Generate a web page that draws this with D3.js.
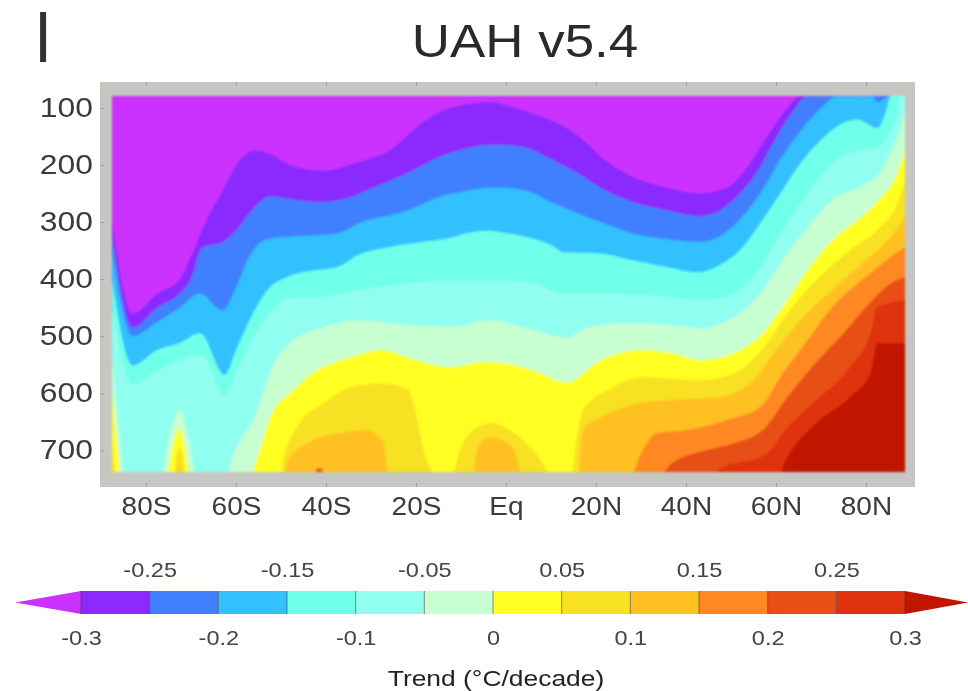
<!DOCTYPE html>
<html>
<head>
  <meta charset="utf-8">
  <title>UAH v5.4</title>
  <script src="https://d3js.org/d3.v7.min.js"></script>
  <style>
    html, body { margin: 0; padding: 0; background: #fff; }
    svg { display: block; }
    text { font-family: "Liberation Sans", Arial, sans-serif; }
  </style>
</head>
<body>
  <script>
    // pressure levels and latitudes on the axes
    var pressureTicks = [100, 200, 300, 400, 500, 600, 700];
    var latTicks = [-80, -60, -40, -20, 0, 20, 40, 60, 80];
    var latLabels = ["80S", "60S", "40S", "20S", "Eq", "20N", "40N", "60N", "80N"];

    // colour bar
    var barLevels = [-0.3, -0.25, -0.2, -0.15, -0.1, -0.05, 0, 0.05, 0.1, 0.15, 0.2, 0.25, 0.3];
    var barLabelsLow = [-0.3, -0.2, -0.1, 0, 0.1, 0.2, 0.3];
    var barLabelsHigh = [-0.25, -0.15, -0.05, 0.05, 0.15, 0.25];
    var bandColors = ["#cc33ff", "#8a2cff", "#4080ff", "#30c0ff", "#70ffe8", "#90fff0", "#c8ffd0",
                      "#ffff20", "#f8e020", "#ffc020", "#ff8820", "#e85018", "#e03008", "#c01800"];

    // contour lines, [latitude, pressure]
    // a pressure of 760 means the contour is under the bottom of the plot
    var lineM30 = [[-87.5,300],[-83,460],[-77.5,425],[-72.5,400],[-70,360],[-66.5,295],[-63,245],[-59,190],[-56,175],[-52.5,180],[-48,200],[-40.5,210],[-33,195],[-26,175],[-18.5,125],[-12.5,100],[-3.5,90],[0,95],[6,110],[13.5,135],[17,155],[21,185],[28,220],[36,240],[43,250],[49,240],[53.5,205],[58,150],[62.5,100],[65.5,79],[88.7,79]];
    var lineM25 = [[-87.5,325],[-83,485],[-77.5,450],[-72.5,425],[-70,400],[-67.5,345],[-63,335],[-60,315],[-56,275],[-52.5,255],[-48,260],[-42,265],[-36,260],[-29.5,240],[-22,215],[-14.5,185],[-8.5,170],[-3.5,165],[-1,165],[4.5,170],[10,190],[16,215],[21,240],[28,265],[36,280],[43,290],[47.5,280],[52,250],[56,210],[59.5,160],[63,115],[67,80],[88.7,79]];
    var lineM20 = [[-87.5,355],[-83,500],[-77.5,475],[-72.5,450],[-68,425],[-63,455],[-60,415],[-57,360],[-53,330],[-46.5,325],[-37.5,320],[-32,300],[-22,280],[-14.5,255],[-8.5,245],[-3.5,240],[-1,240],[4.5,245],[10,265],[16,285],[21,300],[28,320],[36,330],[43,335],[47.5,325],[52,295],[56.5,250],[61,190],[65.5,140],[70,100],[73.5,80],[81.5,80],[82.5,90],[84,85],[85,80],[88.7,79]];
    var lineM15 = [[-87.5,402],[-83,551],[-77.5,524],[-72.5,512],[-68,495],[-62.5,568],[-60,524],[-57,472],[-53,419],[-48.5,396],[-42,384],[-37.5,379],[-33,358],[-26,344],[-18.5,335],[-12.5,328],[-8.5,319],[-3.5,315],[-1,318],[4.5,326],[10,340],[13,353],[21,355],[28,367],[36,379],[42.5,388],[47.5,375],[52,349],[56.5,302],[61,249],[65.5,196],[70,156],[75,126],[78,120],[82.5,135],[84.5,105],[85.5,79],[88.7,79]];
    var lineM10 = [[-87.5,454],[-83,585],[-77.5,560],[-72.5,542],[-67.5,533],[-62.5,603],[-60,563],[-57,515],[-52,454],[-48,433],[-40.5,431],[-33,419],[-22,407],[-11,402],[-1,402],[6,407],[13,425],[21,425],[36,431],[43,437],[50.5,425],[56.5,379],[61.5,314],[67,249],[72.5,196],[78.5,174],[82.5,168],[85.5,139],[87,109],[87.5,79],[88.7,79]];
    var lineM05 = [[-87.5,540],[-86,665],[-84.5,760],[-77,760],[-75,682],[-72.5,630],[-70.5,682],[-68.5,760],[-63,760],[-60.5,705],[-55.5,635],[-52.5,565],[-48,512],[-40.5,484],[-33,472],[-22,480],[-12.5,484],[-3.5,472],[6,489],[13.5,503],[18.5,484],[28,477],[36,480],[43,486],[50.5,467],[56.5,425],[61.5,367],[67,309],[72.5,261],[78.5,239],[83,214],[86,168],[88,126],[88.7,104]];
    var lineZero = [[-87.5,600],[-86.5,682],[-85.5,760],[-75.8,760],[-74,690],[-72.5,660],[-71.5,690],[-69.8,760],[-58,760],[-54.5,695],[-52,635],[-48,600],[-43,565],[-34.5,537],[-28,524],[-20,542],[-12.5,554],[-5,545],[-1,547],[6,560],[13.5,581],[21,542],[30.5,524],[37,530],[43,542],[50.5,530],[57,495],[62.5,437],[67,384],[72.5,332],[80,284],[83.5,256],[87,214],[88.7,174]];
    var lineP05 = [[-87.5,682],[-86.5,760],[-74,760],[-73.2,709],[-72.5,695],[-71.8,709],[-71,760],[-50,760],[-49.5,717],[-46.5,660],[-40.5,617],[-34.5,590],[-28,583],[-22,592],[-20,635],[-18.5,695],[-15.5,740],[-12,740],[-10,695],[-6.5,660],[-3,652],[1,665],[6,700],[12.5,760],[14,760],[16,665],[17,630],[22.5,595],[30.5,572],[43,577],[52,560],[58,512],[62.5,460],[69,402],[76.5,349],[82.5,314],[87,267],[88.7,226]];
    var lineP10 = [[-87.5,760],[-73,760],[-72.5,725],[-72,760],[-49.5,760],[-48.5,717],[-44,687],[-37,670],[-31,665],[-27.5,682],[-25.5,760],[-8,760],[-6,690],[-3.5,677],[-1,682],[1.5,695],[4.5,760],[16,760],[17,665],[23,635],[30.5,616],[37,612],[47,607],[55,577],[60,524],[65.5,472],[72.5,419],[80,367],[85.5,326],[88.7,291]];
    var lineP15 = [[-87.5,760],[-44.7,760],[-43,745],[-40.5,745],[-39,760],[27,760],[30,705],[33.5,670],[40,665],[49,647],[56.5,624],[61.5,565],[67,507],[72.5,449],[80,396],[85.5,361],[88.7,344]];
    var lineP20 = [[-87.5,760],[-43,760],[-42,732],[-41,732],[-40,760],[32,760],[37,722],[44.5,700],[50.5,688],[57,665],[62.5,607],[68,554],[75,495],[80,449],[85.5,407],[88.7,396]];
    var lineP25 = [[-87.5,760],[45,760],[47,735],[58,705],[62.5,660],[69,612],[76.5,554],[81,495],[82.5,449],[88.7,437]];
    var lineP30 = [[-87.5,760],[59.5,760],[62.5,712],[69,652],[76.5,607],[81,565],[82.5,512],[88.7,512]];

    var contourLines = [lineM30, lineM25, lineM20, lineM15, lineM10, lineM05, lineZero,
                        lineP05, lineP10, lineP15, lineP20, lineP25, lineP30];

    var width = 968, height = 691;

    var svg = d3.select("body").append("svg")
        .attr("width", width)
        .attr("height", height);

    var defs = svg.append("defs");
    defs.append("filter").attr("id", "soft")
        .attr("x", "-5%").attr("y", "-5%").attr("width", "110%").attr("height", "110%")
      .append("feGaussianBlur").attr("stdDeviation", 1.3);
    defs.append("filter").attr("id", "softText")
      .append("feGaussianBlur").attr("stdDeviation", 0.55);

    var x = d3.scaleLinear().domain([-87.55, 88.67]).range([112, 905]);
    var y = d3.scaleLinear().domain([79, 738]).range([96, 472]);
    var barX = d3.scaleLinear().domain([-0.3, 0.3]).range([81, 905]);

    // the source image is stretched sideways, so stretch the text too
    function widen(sel, k) {
      sel.each(function() {
        var len = this.getComputedTextLength();
        d3.select(this)
          .attr("textLength", len * k)
          .attr("lengthAdjust", "spacingAndGlyphs");
      });
    }

    // grey frame behind the plot
    svg.append("rect")
        .attr("x", 100).attr("y", 82)
        .attr("width", 815).attr("height", 405)
        .attr("fill", "#c6c6c2");

    // faint ticks on the frame
    var frameLeft = svg.append("g").attr("transform", "translate(100,0)")
        .call(d3.axisRight(y).tickValues(pressureTicks).tickSize(4).tickFormat(""));
    var frameTop = svg.append("g").attr("transform", "translate(0,82)")
        .call(d3.axisBottom(x).tickValues(latTicks).tickSize(4).tickFormat(""));
    var frameBottom = svg.append("g").attr("transform", "translate(0,487)")
        .call(d3.axisTop(x).tickValues(latTicks).tickSize(4).tickFormat(""));
    [frameLeft, frameTop, frameBottom].forEach(function(g) {
      g.select(".domain").remove();
      g.selectAll("line").attr("stroke", "#777").attr("stroke-opacity", 0.5);
    });

    defs.append("clipPath").attr("id", "plotClip")
      .append("rect")
        .attr("x", x.range()[0]).attr("y", y.range()[0])
        .attr("width", x.range()[1] - x.range()[0])
        .attr("height", y.range()[1] - y.range()[0]);

    var plot = svg.append("g").attr("filter", "url(#soft)")
      .append("g").attr("clip-path", "url(#plotClip)");

    plot.append("rect")
        .attr("x", x.range()[0]).attr("y", y.range()[0])
        .attr("width", x.range()[1] - x.range()[0])
        .attr("height", y.range()[1] - y.range()[0])
        .attr("fill", bandColors[0]);

    // each band is painted from its contour down to the bottom, next one goes over it
    var area = d3.area()
        .curve(d3.curveMonotoneX)
        .x(d => x(d[0]))
        .y0(y(760))
        .y1(d => y(d[1]));

    plot.selectAll(".band")
        .data(contourLines)
      .enter().append("path")
        .attr("class", "band")
        .attr("d", area)
        .attr("fill", (d, i) => bandColors[i + 1]);

    var texts = svg.append("g").attr("filter", "url(#softText)");

    // Y axis
    var yAxisGroup = texts.append("g")
        .attr("transform", "translate(93,0)")
        .call(d3.axisLeft(y).tickValues(pressureTicks).tickSize(0).tickPadding(0));
    yAxisGroup.select(".domain").remove();
    yAxisGroup.selectAll("text")
        .attr("font-size", 27).attr("font-family", "Liberation Sans").attr("fill", "#3a3a3a")
        .call(widen, 1.18);

    // X axis
    var xAxisGroup = texts.append("g")
        .attr("transform", "translate(0,487)")
        .call(d3.axisBottom(x).tickValues(latTicks)
          .tickFormat((d, i) => latLabels[i]).tickSize(0).tickPadding(10));
    xAxisGroup.select(".domain").remove();
    xAxisGroup.selectAll("text")
        .attr("font-size", 25).attr("font-family", "Liberation Sans").attr("fill", "#3a3a3a")
        .call(widen, 1.12);

    // Title
    texts.append("text")
        .attr("x", 525).attr("y", 57)
        .attr("text-anchor", "middle")
        .attr("font-size", 46).attr("fill", "#2a2a2a")
        .text("UAH v5.4")
        .call(widen, 1.15);

    // panel letter
    texts.append("text")
        .attr("x", 35.5).attr("y", 62)
        .attr("font-size", 68).attr("fill", "#333")
        .text("l");

    // Colour bar
    var barTop = 591, barBottom = 614, barMid = (barTop + barBottom) / 2;
    var bar = svg.append("g").attr("filter", "url(#softText)");

    bar.selectAll(".seg")
        .data(d3.pairs(barLevels))
      .enter().append("rect")
        .attr("class", "seg")
        .attr("x", d => barX(d[0]))
        .attr("y", barTop)
        .attr("width", d => barX(d[1]) - barX(d[0]))
        .attr("height", barBottom - barTop)
        .attr("fill", (d, i) => bandColors[i + 1]);

    // arrow ends; they run a bit less than one band past the last level
    bar.append("path")
        .attr("d", d3.line()([[barX(-0.3), barTop], [barX(-0.3), barBottom], [barX(-0.348), barMid]]))
        .attr("fill", bandColors[0]);
    bar.append("path")
        .attr("d", d3.line()([[barX(0.3), barTop], [barX(0.3), barBottom], [barX(0.346), barMid]]))
        .attr("fill", bandColors[13]);

    bar.selectAll(".sep")
        .data(barLevels)
      .enter().append("line")
        .attr("class", "sep")
        .attr("x1", d => barX(d)).attr("x2", d => barX(d))
        .attr("y1", barTop).attr("y2", barBottom)
        .attr("stroke", "#333").attr("stroke-opacity", 0.55).attr("stroke-width", 1);

    var barLow = texts.append("g")
        .attr("transform", "translate(0,630)")
        .call(d3.axisBottom(barX).tickValues(barLabelsLow).tickFormat(d => String(d)).tickSize(0).tickPadding(0));
    var barHigh = texts.append("g")
        .attr("transform", "translate(0,577)")
        .call(d3.axisTop(barX).tickValues(barLabelsHigh).tickFormat(d => String(d)).tickSize(0).tickPadding(0));
    barLow.select(".domain").remove();
    barHigh.select(".domain").remove();
    barLow.selectAll("text").attr("font-size", 21).attr("font-family", "Liberation Sans").attr("fill", "#444").call(widen, 1.12);
    barHigh.selectAll("text").attr("font-size", 21).attr("font-family", "Liberation Sans").attr("fill", "#444").attr("dy", 0).call(widen, 1.12);

    texts.append("text")
        .attr("x", 496).attr("y", 686)
        .attr("text-anchor", "middle")
        .attr("font-size", 22).attr("fill", "#222")
        .text("Trend (°C/decade)")
        .call(widen, 1.2);
  </script>
</body>
</html>
